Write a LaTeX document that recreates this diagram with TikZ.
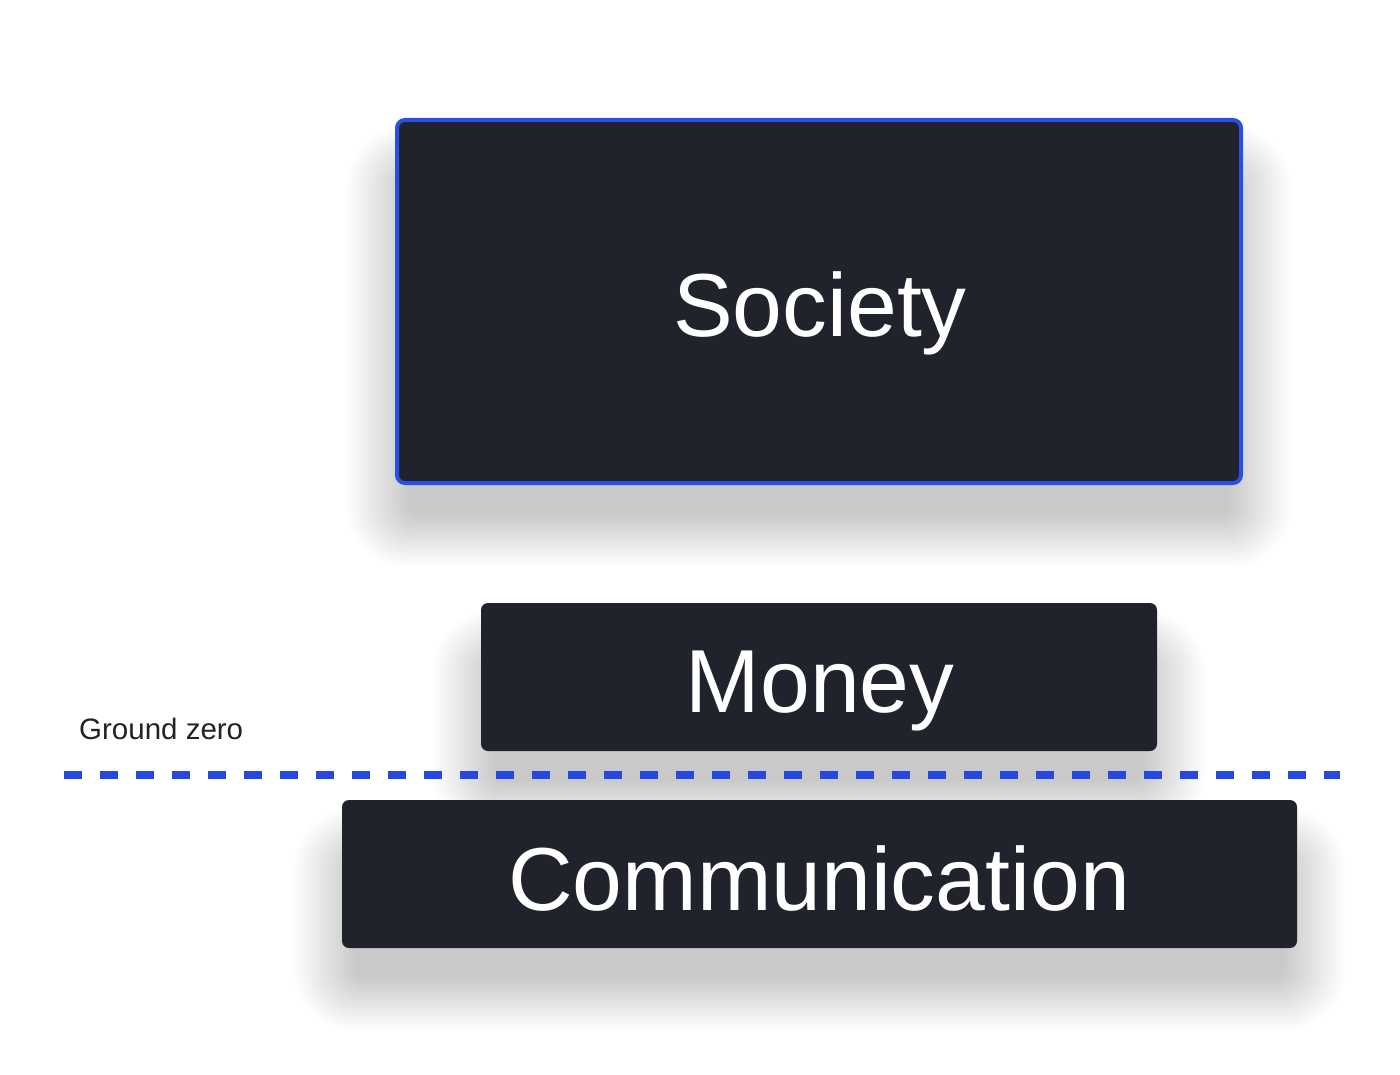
\documentclass[tikz,border=0pt]{standalone}
\usepackage{fontspec}
\setmainfont{Liberation Sans}
\pgfdeclarelayer{bg}
\pgfsetlayers{bg,main}
\definecolor{boxfill}{HTML}{20232B}
\definecolor{boxblue}{HTML}{2B4FE3}
\definecolor{dashblue}{HTML}{2448E0}
\definecolor{labeltext}{HTML}{222326}
\newcommand{\softshadow}[1]{%
  \foreach \d in {0,2,...,52}{%
    \pgfmathsetmacro{\dx}{1.2*\d}%
    \fill[black, fill opacity=0.0079, rounded corners={10pt+\d pt}]
      ([shift={(-\dx pt+14pt,\d pt-60pt)}]#1.north west) rectangle ([shift={(\dx pt-14pt,-\d pt-30pt)}]#1.south east);
  }%
}
\begin{document}
\begin{tikzpicture}[x=1pt,y=-1pt,
  darkbox/.style={draw=none, fill=boxfill, rounded corners=7pt, inner sep=0pt},
  bigtext/.style={text=white, font=\fontsize{89.5}{90}\selectfont, anchor=base, inner sep=0pt},
  gz/.style={dashblue, line width=8pt, dash pattern=on 18pt off 18pt}
]
\useasboundingbox (0,0) rectangle (1400,1075);

% Society box
\node[darkbox, draw=boxblue, line width=4pt, rounded corners=8pt, minimum width=844pt, minimum height=363pt] (society) at (819,301.5) {};
\node[bigtext] (societyt) at (820,337) {Society};

% Money box
\node[darkbox, minimum width=676pt, minimum height=148pt] (money) at (819,677) {};
\node[bigtext] (moneyt) at (820,712) {Money};

% Communication box
\node[darkbox, minimum width=955pt, minimum height=148pt] (comm) at (819.5,874) {};
\node[bigtext] (commt) at (819,910) {Communication};

% Ground zero
\node[anchor=base west, inner sep=0pt, text=labeltext, font=\fontsize{29.5}{30}\selectfont] (gzlabel) at (79,739) {Ground zero};
\coordinate (gzL) at (64,775);
\coordinate (gzR) at (1340,775);
\draw[gz] (gzL) -- (gzR);

\begin{pgfonlayer}{bg}
  \fill[white] (0,0) rectangle (1400,1075);
  \softshadow{society}
  \softshadow{money}
  \softshadow{comm}
\end{pgfonlayer}
\end{tikzpicture}
\end{document}
